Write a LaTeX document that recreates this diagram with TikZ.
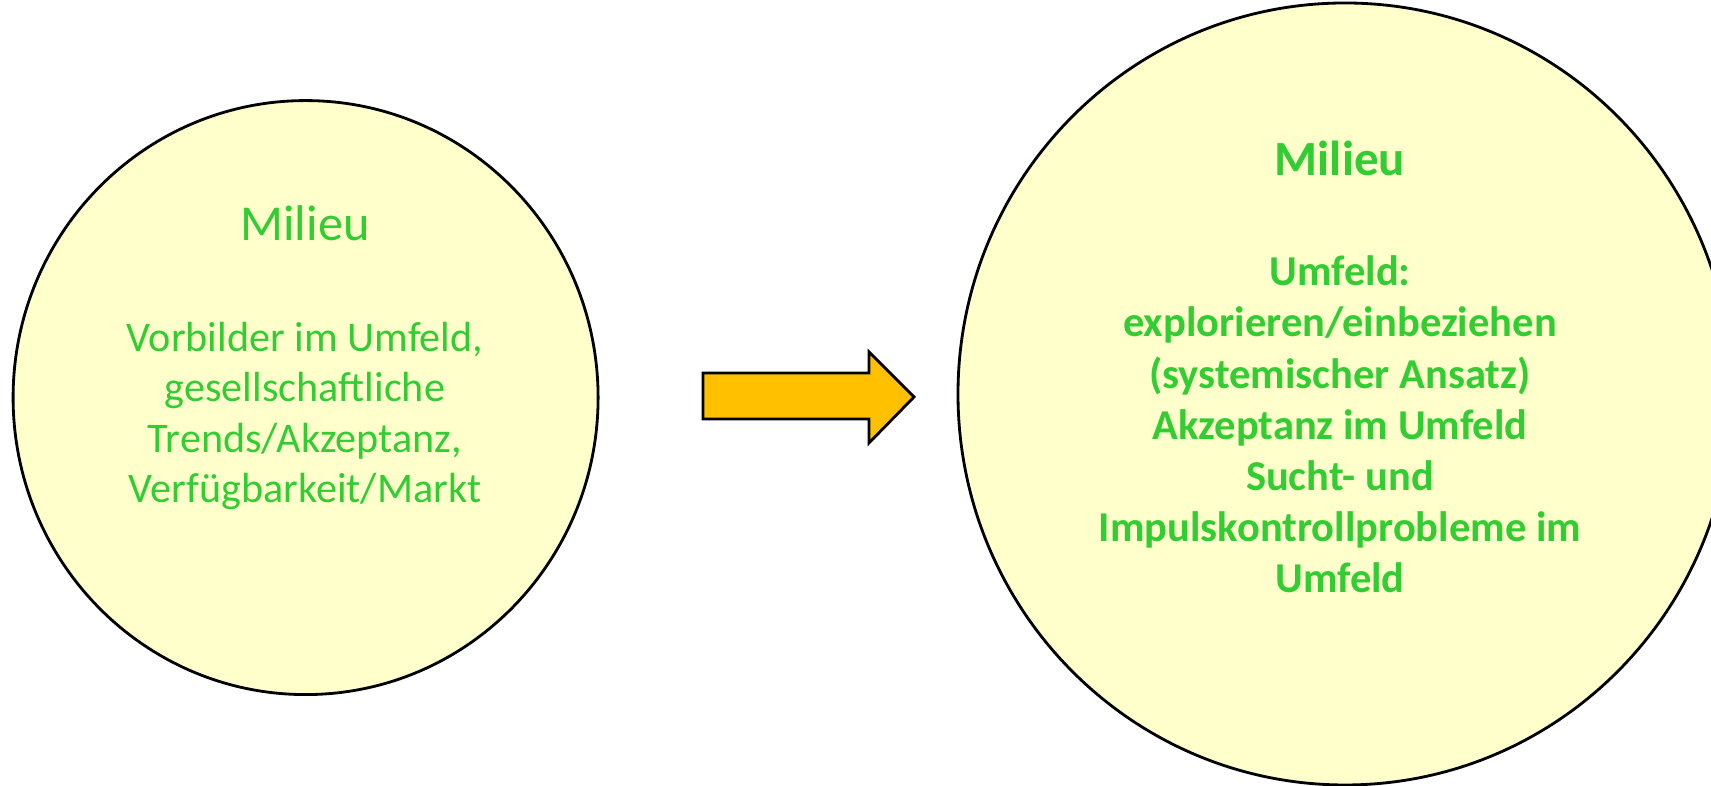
\documentclass[tikz,border=0pt]{standalone}
\usepackage{fontspec}
\setmainfont{Carlito}
\usetikzlibrary{shapes.geometric}
\definecolor{blassgelb}{RGB}{255,255,204}
\definecolor{hellgruen}{RGB}{50,205,50}
\definecolor{orangegelb}{RGB}{255,192,0}
\tikzstyle{kreis} = [ellipse,draw=black,line width=0.8pt,fill=blassgelb]
\tikzstyle{titel} = [text=hellgruen,anchor=base,inner sep=0pt]
\tikzstyle{inhalt} = [text=hellgruen,anchor=base,align=center,inner sep=0pt]
\tikzstyle{pfeil} = [draw=black,line width=0.8pt,fill=orangegelb,line join=miter]

\begin{document}
\begin{tikzpicture}
	\clip (0,0) rectangle (17.11,7.86);
	\useasboundingbox (0,0) rectangle (17.11,7.86);
	\node[kreis,minimum width=5.85cm,minimum height=5.94cm] (alt) at (3.056,3.884) {};
	\node[kreis,minimum width=7.74cm,minimum height=7.82cm] (neu) at (13.45,3.92) {};
	\node[titel,font=\fontsize{14.3}{16}\selectfont] (alttitel) at (3.05,5.45) {Milieu};
	\node[inhalt,font=\fontsize{12}{14.4}\selectfont] (alttext) at (3.05,2.83) {Vorbilder im Umfeld,\\ gesellschaftliche\\ Trends/Akzeptanz,\\ Verfügbarkeit/Markt};
	\node[titel,font=\bfseries\fontsize{14}{16}\selectfont] (neutitel) at (13.40,6.10) {Milieu};
	\node[inhalt,font=\bfseries\fontsize{12.1}{14.57}\selectfont] (neutext) at (13.40,1.93) {Umfeld:\\ explorieren/einbeziehen\\ (systemischer Ansatz)\\ Akzeptanz im Umfeld\\ Sucht- und\\ Impulskontrollprobleme im\\ Umfeld};
	\draw[pfeil] (7.03,4.13) -- (8.69,4.13) -- (8.69,4.34) -- (9.14,3.89) -- (8.69,3.43) -- (8.69,3.67) -- (7.03,3.67) -- cycle;
	\end{tikzpicture}
\end{document}
